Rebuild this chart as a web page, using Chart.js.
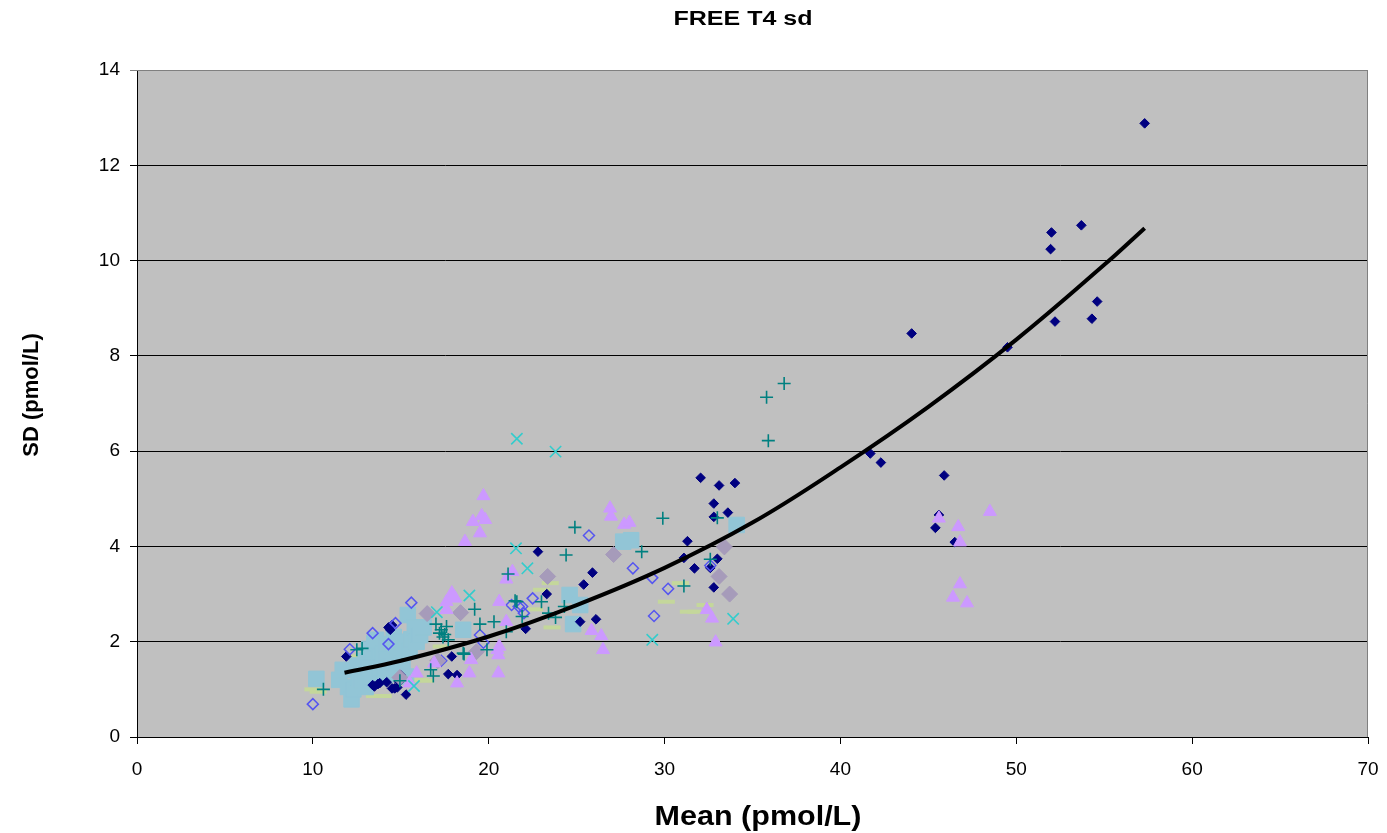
<!DOCTYPE html>
<html><head><meta charset="utf-8">
<script src="https://cdn.jsdelivr.net/npm/chart.js@4.4.1/dist/chart.umd.min.js"></script>
<style>html,body{margin:0;padding:0;background:#fff}#wrap{width:1387px;height:833px}</style>
</head><body><div id="wrap"><canvas id="c" width="1387" height="833"></canvas></div>
<script>
// ---- data (x = mean pmol/L, y = SD pmol/L) ----
const chartTitle = 'FREE T4 sd';
const xTitle = 'Mean (pmol/L)';
const yTitle = 'SD (pmol/L)';
const xTicks = [0, 10, 20, 30, 40, 50, 60, 70];
const yTicks = [0, 2, 4, 6, 8, 10, 12, 14];

const navyDiamonds = [[11.9,1.69],[13.4,1.09],[13.5,1.06],[13.7,1.11],[13.8,1.13],[14.2,1.15],[14.3,2.3],[14.4,2.25],[14.5,2.35],[14.5,1.02],[14.65,1.02],[14.8,1.04],[14.9,1.16],[15.3,0.89],[15.0,1.3],[17.7,1.32],[17.9,1.69],[18.2,1.3],[22.1,2.27],[22.8,3.89],[23.3,3.0],[25.2,2.42],[25.4,3.2],[25.9,3.45],[26.1,2.47],[31.1,3.76],[31.3,4.11],[31.7,3.54],[32.05,5.44],[32.6,3.55],[32.8,4.9],[32.8,4.62],[32.8,3.14],[33.0,3.74],[33.1,5.28],[33.6,4.71],[34.0,5.33],[41.7,5.95],[42.3,5.76],[44.05,8.47],[45.4,4.39],[45.6,4.66],[45.9,5.49],[46.5,4.09],[49.5,8.18],[52.0,10.59],[51.95,10.24],[52.2,8.72],[53.7,10.74],[54.3,8.78],[54.6,9.14],[57.3,12.88]];
const blueSquares = [[10.2,1.22],[11.5,1.2],[11.7,1.41],[12.0,1.05],[12.2,0.79],[12.3,1.0],[12.5,1.5],[12.6,1.25],[12.8,1.2],[13.0,1.6],[13.0,1.3],[13.0,1.05],[13.2,1.85],[13.2,1.45],[13.4,1.27],[13.5,1.97],[13.6,2.04],[13.6,1.25],[13.8,1.69],[13.8,1.45],[14.0,1.75],[14.1,1.3],[14.2,1.6],[14.2,1.95],[14.4,1.48],[14.6,2.1],[14.6,1.55],[14.8,1.9],[14.8,1.35],[15.0,2.0],[15.0,1.7],[15.1,1.55],[15.3,1.27],[15.4,2.56],[15.5,1.8],[15.6,2.05],[15.8,2.3],[15.9,2.0],[16.0,2.14],[16.1,2.14],[16.3,2.3],[18.55,2.25],[24.6,2.98],[25.2,2.77],[24.8,2.37],[27.65,4.1],[28.1,4.13],[34.1,4.45]];
const openDiamonds = [[10.0,0.69],[12.1,1.84],[13.4,2.18],[14.3,1.95],[14.7,2.39],[15.6,2.82],[17.3,1.6],[19.5,2.14],[19.7,1.98],[21.3,2.77],[21.7,2.74],[21.9,2.74],[22.0,2.6],[22.5,2.91],[25.7,4.23],[28.2,3.54],[29.3,3.34],[29.4,2.54],[30.2,3.11],[32.6,3.6]];
const tealCrosses = [[10.6,1.0],[12.5,1.83],[12.8,1.86],[14.95,1.18],[16.7,1.41],[16.85,1.28],[17.0,2.37],[17.2,2.18],[17.4,2.1],[17.6,2.32],[17.7,2.04],[17.3,2.25],[17.5,2.15],[18.55,1.76],[18.6,1.74],[19.2,2.68],[19.5,2.37],[19.9,1.83],[20.3,2.42],[21.0,2.21],[21.1,3.42],[21.5,2.86],[21.6,2.84],[21.9,2.53],[23.0,2.84],[23.4,2.6],[23.8,2.51],[24.3,2.74],[24.4,3.82],[24.9,4.4],[28.7,3.89],[29.9,4.59],[31.1,3.17],[32.6,3.73],[33.0,4.6],[35.8,7.13],[35.9,6.22],[36.8,7.42]];
const cyanXs = [[15.75,1.07],[17.05,2.62],[18.9,2.97],[21.55,3.96],[21.6,6.26],[22.2,3.54],[23.8,5.99],[29.3,2.04],[33.9,2.48]];
const lilacTriangles = [[15.5,1.13],[15.9,1.34],[16.9,1.55],[17.6,2.84],[17.6,2.67],[17.9,3.02],[18.1,2.91],[18.0,2.95],[18.2,1.13],[18.65,4.1],[18.9,1.34],[19.0,1.62],[19.1,4.52],[19.5,4.28],[19.6,4.64],[19.7,5.06],[19.8,4.56],[20.5,1.83],[20.55,1.72],[20.55,1.34],[20.6,2.84],[20.6,1.9],[21.0,2.42],[21.0,3.31],[21.35,3.47],[25.85,2.23],[26.4,2.12],[26.5,1.83],[26.9,4.8],[26.95,4.63],[27.7,4.46],[28.0,4.5],[32.4,2.67],[32.7,2.49],[32.9,1.99],[45.6,4.59],[46.7,4.41],[46.8,4.09],[46.8,3.21],[46.4,2.93],[47.2,2.81],[48.5,4.73]];
const greyDiamonds = [[14.95,1.25],[16.5,2.59],[17.1,1.6],[18.4,2.61],[19.3,1.79],[23.35,3.37],[27.1,3.83],[33.1,3.37],[33.4,3.99],[33.7,3.0]];
const greenDashes = [[10.0,1.0],[10.3,0.95],[12.4,1.69],[13.5,0.86],[14.0,0.86],[16.1,1.2],[16.4,1.18],[17.3,1.9],[22.6,2.68],[23.0,3.09],[23.5,3.23],[23.6,2.3],[30.1,2.84],[30.9,3.23],[31.35,2.63],[31.8,2.63],[32.3,2.77]];
const trendX = [11.8, 15, 20, 25, 30, 35, 40, 45, 50, 55, 57.3];
const trendY = [1.35, 1.6, 2.11, 2.77, 3.55, 4.5, 5.66, 6.93, 8.34, 9.91, 10.68];

const pts = a => a.map(p => ({x: p[0], y: p[1]}));
const FONT = "'Liberation Sans', Arial, sans-serif";

function stretchedText(ctx, text, x, y, font, sx) {
  ctx.save();
  ctx.translate(x, y);
  ctx.scale(sx, 1);
  ctx.font = font;
  ctx.fillText(text, 0, 0);
  ctx.restore();
}

const framePlugin = {
  id: 'frame',
  beforeDraw(chart) {
    const {ctx, chartArea: a} = chart;
    ctx.save();
    ctx.fillStyle = '#c0c0c0';
    ctx.fillRect(a.left, a.top, a.right - a.left, a.bottom - a.top);
    ctx.restore();
  },
  beforeDatasetsDraw(chart) {
    const {ctx, chartArea: a} = chart;
    ctx.save();
    ctx.strokeStyle = '#808080';
    ctx.lineWidth = 1;
    ctx.beginPath();
    ctx.moveTo(a.left, a.top + 0.5);
    ctx.lineTo(a.right - 0.5, a.top + 0.5);
    ctx.lineTo(a.right - 0.5, a.bottom);
    ctx.stroke();
    ctx.restore();
  },
  afterDraw(chart) {
    const {ctx} = chart;
    ctx.save();
    ctx.fillStyle = '#000';
    ctx.textAlign = 'center';
    ctx.textBaseline = 'middle';
    stretchedText(ctx, chartTitle, 743, 19, "bold 20px " + FONT, 1.25);
    stretchedText(ctx, xTitle, 758, 817, "bold 28px " + FONT, 1.09);
    ctx.translate(32, 395);
    ctx.rotate(-Math.PI / 2);
    ctx.font = "bold 22px " + FONT;
    ctx.fillText(yTitle, 0, 0);
    ctx.restore();
  }
};

const ds = (label, data, style, order) => Object.assign({label, data: pts(data), order}, style);

new Chart(document.getElementById('c'), {
  type: 'scatter',
  data: {
    datasets: [
      {label: 'trend', data: trendX.map((x, i) => ({x, y: trendY[i]})), showLine: true, borderColor: '#000', borderWidth: 4, pointRadius: 0, tension: 0.4, order: 0},
      ds('cyan', cyanXs, {pointStyle: 'crossRot', pointRadius: 8, borderColor: '#33cccc', borderWidth: 1.6, backgroundColor: '#33cccc'}, 1),
      ds('teal', tealCrosses, {pointStyle: 'cross', pointRadius: 6.5, borderColor: '#008080', borderWidth: 1.6, backgroundColor: '#008080'}, 2),
      ds('lilac', lilacTriangles, {pointStyle: 'triangle', pointRadius: 7.5, borderColor: '#cc99ff', borderWidth: 1, backgroundColor: '#cc99ff'}, 3),
      ds('grey', greyDiamonds, {pointStyle: 'rectRot', pointRadius: 8, borderColor: '#a69bba', borderWidth: 1, backgroundColor: '#a69bba'}, 4),
      ds('open', openDiamonds, {pointStyle: 'rectRot', pointRadius: 5.5, borderColor: '#5555f0', borderWidth: 1.5, backgroundColor: 'rgba(0,0,0,0)'}, 5),
      ds('navy', navyDiamonds, {pointStyle: 'rectRot', pointRadius: 4.8, borderColor: '#000080', borderWidth: 1, backgroundColor: '#000080'}, 6),
      ds('squares', blueSquares, {pointStyle: 'rect', pointRadius: 11, borderColor: '#92c5d6', borderWidth: 1, backgroundColor: '#92c5d6'}, 7),
      ds('green', greenDashes, {pointStyle: 'line', pointRadius: 8.5, borderColor: '#c4d79b', borderWidth: 4, backgroundColor: '#c4d79b'}, 8)
    ]
  },
  options: {
    responsive: false,
    animation: false,
    devicePixelRatio: 1,
    layout: {padding: {top: 70, right: 19, left: 0, bottom: 0}},
    plugins: {legend: {display: false}, tooltip: {enabled: false}, title: {display: false}},
    elements: {point: {hoverRadius: 0}},
    scales: {
      x: {
        type: 'linear', min: 0, max: 70,
        afterBuildTicks: s => { s.ticks = xTicks.map(v => ({value: v})); },
        ticks: {color: '#000', font: {family: FONT, size: 19}, padding: 14, maxRotation: 0},
        grid: {drawOnChartArea: false, drawTicks: true, tickLength: 7, color: '#000'},
        border: {color: '#000', width: 1},
        afterFit: s => { s.height = 96; s.paddingRight = 0; s.paddingLeft = 0; }
      },
      y: {
        type: 'linear', min: 0, max: 14,
        afterBuildTicks: s => { s.ticks = yTicks.map(v => ({value: v})); },
        ticks: {color: '#000', font: {family: FONT, size: 19}, padding: 10},
        grid: {color: ctx => (ctx.tick && ctx.tick.value === 14) ? '#808080' : '#000', lineWidth: 1, tickLength: 7, drawTicks: true},
        border: {color: '#000', width: 1},
        afterFit: s => { s.width = 137; s.paddingTop = 0; s.paddingBottom = 0; }
      }
    }
  },
  plugins: [framePlugin]
});
</script>
</body></html>
